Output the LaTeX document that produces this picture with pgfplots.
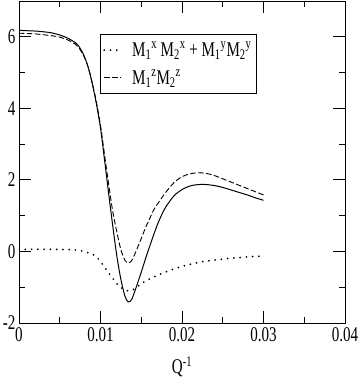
\documentclass[border=0pt]{standalone}
\usepackage{fontspec}
\setmainfont[FakeStretch=0.72]{Liberation Serif}
\usepackage{pgfplots}
\pgfplotsset{compat=1.18}
\begin{document}
\begin{tikzpicture}
\begin{axis}[
  width=326bp, height=322bp, scale only axis,
  xmin=0, xmax=0.04, ymin=-2, ymax=7,
  scaled x ticks=false,
  xtick={0,0.01,0.02,0.03,0.04},
  xticklabels={0,0.01,0.02,0.03,0.04},
  ytick={-2,0,2,4,6},
  yticklabels={-2,0,2,4,6},
  minor x tick num=1, minor y tick num=1,
  xtick pos=both, ytick pos=both,
  tick align=inside,
  major tick length=12bp, minor tick length=6bp,
  axis line style={line width=1pt},
  every tick/.style={black, line width=0.8pt},
  ticklabel style={font=\fontsize{21}{23}\selectfont},
  xticklabel style={yshift=-1bp},
  xlabel={Q\textsuperscript{-1}},
  xlabel style={font=\fontsize{21}{23}\selectfont, yshift=-8bp},
  legend style={at={(rel axis cs:0.248,0.898)}, anchor=north west,
    draw=black, line width=0.8pt, font=\fontsize{21}{23}\selectfont,
    row sep=8pt, inner xsep=3pt, inner ysep=6pt,
    /tikz/every odd column/.append style={column sep=8pt}},
  legend cell align=left,
]
\addplot[black, line width=1pt, smooth, forget plot] coordinates {
(0,6.18) (0.001,6.17) (0.002,6.16) (0.003,6.14) (0.004,6.11) (0.005,6.05)
(0.006,5.96) (0.007,5.82) (0.0075,5.68) (0.008,5.46) (0.0085,5.14) (0.009,4.68)
(0.0095,4.12) (0.010,3.45) (0.0105,2.55) (0.011,1.62) (0.0115,0.72) (0.012,-0.12)
(0.0125,-0.78) (0.013,-1.25) (0.0134,-1.41) (0.0138,-1.35) (0.0142,-1.12)
(0.0146,-0.85) (0.015,-0.58) (0.0155,-0.22) (0.016,0.12) (0.0165,0.45)
(0.017,0.76) (0.0175,1.02) (0.018,1.24) (0.019,1.55) (0.020,1.73) (0.021,1.83)
(0.022,1.87) (0.023,1.87) (0.024,1.84) (0.025,1.79) (0.026,1.72) (0.027,1.65)
(0.028,1.58) (0.029,1.50) (0.030,1.43)
};
\addplot[black, line width=2pt, line cap=round, dash pattern=on 0pt off 6.3pt, smooth] coordinates {
(0,0.06) (0.002,0.06) (0.004,0.06) (0.006,0.05) (0.007,0.04) (0.008,0.0)
(0.0085,-0.04) (0.009,-0.08) (0.0095,-0.15) (0.010,-0.28) (0.0105,-0.44)
(0.011,-0.60) (0.0115,-0.75) (0.012,-0.90) (0.0125,-1.01) (0.013,-1.08)
(0.0135,-1.10) (0.014,-1.07) (0.0145,-0.99) (0.015,-0.90) (0.016,-0.77)
(0.017,-0.67) (0.018,-0.57) (0.019,-0.49) (0.020,-0.42) (0.021,-0.36)
(0.022,-0.31) (0.023,-0.27) (0.024,-0.24) (0.025,-0.21) (0.026,-0.19)
(0.027,-0.17) (0.028,-0.15) (0.029,-0.14) (0.030,-0.13)
};
\addlegendentry{M\textsubscript{1}\textsuperscript{x}\,M\textsubscript{2}\textsuperscript{x} + M\textsubscript{1}\textsuperscript{y}M\textsubscript{2}\textsuperscript{y}}
\addplot[black, line width=0.9pt, dash pattern=on 5.5pt off 2.5pt, smooth] coordinates {
(0,6.10) (0.002,6.08) (0.004,6.03) (0.005,5.99) (0.006,5.91) (0.007,5.78)
(0.0075,5.64) (0.008,5.44) (0.0085,5.14) (0.009,4.70) (0.0095,4.17) (0.010,3.52)
(0.0105,2.70) (0.011,1.88) (0.0115,1.12) (0.012,0.55) (0.0125,0.05) (0.013,-0.25)
(0.0134,-0.32) (0.0138,-0.26) (0.0142,-0.08) (0.0146,0.14) (0.015,0.36)
(0.0155,0.65) (0.016,0.90) (0.0165,1.15) (0.017,1.33) (0.018,1.65) (0.019,1.92)
(0.020,2.09) (0.021,2.17) (0.022,2.20) (0.023,2.18) (0.024,2.12) (0.025,2.03)
(0.026,1.94) (0.027,1.85) (0.028,1.76) (0.029,1.67) (0.030,1.58)
};
\addlegendentry{M\textsubscript{1}\textsuperscript{z}M\textsubscript{2}\textsuperscript{z}}
\coordinate (ll) at (rel axis cs:0,0);
\end{axis}
\pgfresetboundingbox
\path (ll) ++(-19bp,-65bp) rectangle ++(360bp,388bp);
\end{tikzpicture}
\end{document}
